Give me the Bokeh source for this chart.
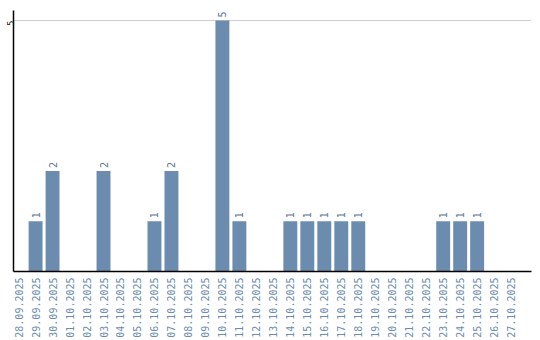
import math
from bokeh.plotting import figure
from bokeh.models import ColumnDataSource, Range1d, FixedTicker
from bokeh.core.properties import value
from bokeh.embed import file_html
from bokeh.resources import INLINE

dates = ["28.09.2025", "29.09.2025", "30.09.2025", "01.10.2025", "02.10.2025",
         "03.10.2025", "04.10.2025", "05.10.2025", "06.10.2025", "07.10.2025",
         "08.10.2025", "09.10.2025", "10.10.2025", "11.10.2025", "12.10.2025",
         "13.10.2025", "14.10.2025", "15.10.2025", "16.10.2025", "17.10.2025",
         "18.10.2025", "19.10.2025", "20.10.2025", "21.10.2025", "22.10.2025",
         "23.10.2025", "24.10.2025", "25.10.2025", "26.10.2025", "27.10.2025"]
counts = [0, 1, 2, 0, 0, 2, 0, 0, 1, 2, 0, 0, 5, 1, 0, 0, 1, 1, 1, 1, 1,
          0, 0, 0, 0, 1, 1, 1, 0, 0]
y_ticks = [5]

idx = list(range(len(dates)))
bx = [i for i, c in zip(idx, counts) if c > 0]
by = [c for c in counts if c > 0]
src = ColumnDataSource(dict(x=bx, top=by, label=[str(c) for c in by]))

FONT = "DejaVu Sans Mono"
BAR = "#6b8cae"

p = figure(width=540, height=340, output_backend="svg", toolbar_location=None,
           x_range=Range1d(-0.3, 30.2), y_range=Range1d(0, 5.2),
           min_border_left=0, min_border_right=9, min_border_top=10, min_border_bottom=0)
p.outline_line_color = None
p.background_fill_color = "white"
p.border_fill_color = "white"

p.vbar(x="x", top="top", width=0.82, source=src, color=BAR, line_color=None)
p.text(x="x", y="top", text="label", source=src, angle=math.pi / 2,
       text_align="left", text_baseline="middle", y_offset=-3,
       text_font=value(FONT), text_font_size="10px", text_color="#5f7693")

p.xgrid.grid_line_color = None
p.ygrid.ticker = FixedTicker(ticks=y_ticks)
p.ygrid.grid_line_color = "#cccccc"

p.xaxis.ticker = FixedTicker(ticks=idx)
p.xaxis.major_label_overrides = {i: d for i, d in zip(idx, dates)}
p.xaxis.major_label_orientation = math.pi / 2
p.xaxis.major_label_text_font = FONT
p.xaxis.major_label_text_font_size = "10px"
p.xaxis.major_label_text_color = "#6a8cb0"
p.xaxis.major_tick_line_color = None
p.xaxis.major_tick_out = 0
p.xaxis.major_tick_in = 0
p.xaxis.minor_tick_line_color = None
p.xaxis.minor_tick_out = 0
p.xaxis.major_label_standoff = 6
p.xaxis.axis_line_color = "black"
p.xaxis.axis_line_width = 1.5

p.yaxis.ticker = FixedTicker(ticks=y_ticks)
p.yaxis.major_label_orientation = math.pi / 2
p.yaxis.major_label_text_font = FONT
p.yaxis.major_label_text_font_size = "9px"
p.yaxis.major_label_text_color = "#222222"
p.yaxis.major_tick_line_color = None
p.yaxis.major_tick_out = 0
p.yaxis.major_tick_in = 0
p.yaxis.minor_tick_line_color = None
p.yaxis.minor_tick_out = 0
p.yaxis.major_label_standoff = 3
p.yaxis.axis_line_color = "black"
p.yaxis.axis_line_width = 1.5

open("out.html", "w").write(file_html(p, INLINE))
